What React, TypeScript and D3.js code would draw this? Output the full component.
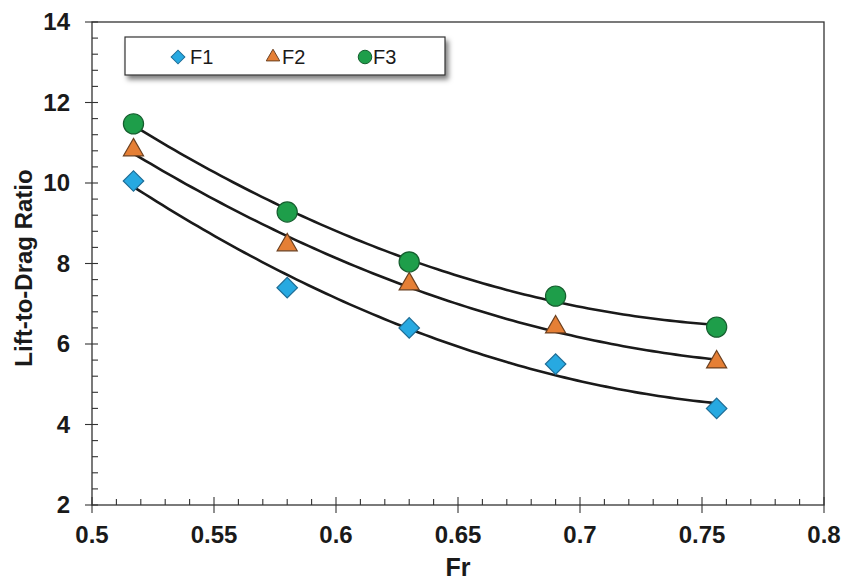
import React, { useEffect, useRef } from 'react'
import * as d3 from 'd3'

// Froude number at each test point
const fr = [0.517, 0.58, 0.63, 0.69, 0.756]
// lift-to-drag ratio
const f1 = [10.05, 7.4, 6.4, 5.5, 4.4]
const f2 = [10.82, 8.46, 7.49, 6.42, 5.55]
const f3 = [11.47, 9.28, 8.04, 7.19, 6.42]
const seriesNames = ['F1', 'F2', 'F3']
const xTicks = [0.5, 0.55, 0.6, 0.65, 0.7, 0.75, 0.8]
const yTicks = [2, 4, 6, 8, 10, 12, 14]

// least squares quadratic, like an Excel poly(2) trendline
function quadFit(xs: number[], ys: number[]) {
  const n = xs.length
  let s = [0, 0, 0, 0, 0], t = [0, 0, 0]
  for (let i = 0; i < n; i++) {
    for (let k = 0; k < 5; k++) s[k] += Math.pow(xs[i], k)
    for (let k = 0; k < 3; k++) t[k] += ys[i] * Math.pow(xs[i], k)
  }
  const A = [
    [s[0], s[1], s[2], t[0]],
    [s[1], s[2], s[3], t[1]],
    [s[2], s[3], s[4], t[2]],
  ]
  for (let c = 0; c < 3; c++) {
    for (let r = c + 1; r < 3; r++) {
      const f = A[r][c] / A[c][c]
      for (let k = c; k < 4; k++) A[r][k] -= f * A[c][k]
    }
  }
  const b = [0, 0, 0]
  for (let r = 2; r >= 0; r--) {
    let v = A[r][3]
    for (let k = r + 1; k < 3; k++) v -= A[r][k] * b[k]
    b[r] = v / A[r][r]
  }
  return (x: number) => b[0] + b[1] * x + b[2] * x * x
}

const App = () => {
  const ref = useRef<SVGSVGElement>(null)

  useEffect(() => {
    const svg = d3.select(ref.current)
    svg.selectAll('*').remove()

    const left = 92, right = 824, top = 22, bottom = 505
    const x = d3.scaleLinear().domain([0.5, 0.8]).range([left, right])
    const y = d3.scaleLinear().domain([2, 14]).range([bottom, top])
    const font = 'Arial, "Liberation Sans", sans-serif'

    const defs = svg.append('defs')
    const filt = defs.append('filter').attr('id', 'shadow').attr('x', '-10%').attr('y', '-30%').attr('width', '130%').attr('height', '180%')
    filt.append('feDropShadow').attr('dx', 3).attr('dy', 4).attr('stdDeviation', 2.5).attr('flood-color', '#000').attr('flood-opacity', 0.5)

    // frame
    svg.append('rect')
      .attr('x', left).attr('y', top)
      .attr('width', right - left).attr('height', bottom - top)
      .attr('fill', 'none').attr('stroke', '#333').attr('stroke-width', 1.3)

    // y axis with minor ticks
    const ya = svg.append('g')
    d3.range(2, 14.001, 0.4).forEach(v => {
      const major = yTicks.some(t => Math.abs(t - v) < 1e-6)
      ya.append('line')
        .attr('x1', major ? left - 7 : left).attr('x2', left + 6)
        .attr('y1', y(v)).attr('y2', y(v))
        .attr('stroke', '#333').attr('stroke-width', 1.1)
    })
    yTicks.forEach(v => {
      ya.append('text')
        .attr('x', left - 22).attr('y', y(v)).attr('dy', '0.35em')
        .attr('text-anchor', 'end')
        .style('font-family', font).style('font-weight', 'bold').style('font-size', '24px')
        .attr('fill', '#1a1a1a').text(v)
    })

    // x axis with minor ticks
    const xa = svg.append('g')
    d3.range(0.5, 0.8001, 0.01).forEach(v => {
      const major = xTicks.some(t => Math.abs(t - v) < 1e-6)
      xa.append('line')
        .attr('x1', x(v)).attr('x2', x(v))
        .attr('y1', major ? bottom - 8 : bottom - 6).attr('y2', major ? bottom + 8 : bottom)
        .attr('stroke', '#333').attr('stroke-width', 1.1)
    })
    xTicks.forEach(v => {
      xa.append('text')
        .attr('x', x(v)).attr('y', bottom + 38)
        .attr('text-anchor', 'middle')
        .style('font-family', font).style('font-weight', 'bold').style('font-size', '24px')
        .attr('fill', '#1a1a1a').text(String(v))
    })

    svg.append('text')
      .attr('x', (left + right) / 2).attr('y', 576)
      .attr('text-anchor', 'middle')
      .style('font-family', font).style('font-weight', 'bold').style('font-size', '25px')
      .attr('fill', '#1a1a1a').text('Fr')

    svg.append('text')
      .attr('transform', `translate(32,268) rotate(-90)`)
      .attr('text-anchor', 'middle')
      .style('font-family', font).style('font-weight', 'bold').style('font-size', '24px')
      .attr('fill', '#1a1a1a').text('Lift-to-Drag Ratio')

    const all = [f1, f2, f3]
    // trendlines
    const line = d3.line<number[]>().x(d => x(d[0])).y(d => y(d[1]))
    all.forEach(ys => {
      const f = quadFit(fr, ys)
      const pts = d3.range(0, 101).map(i => {
        const xv = fr[0] + (fr[fr.length - 1] - fr[0]) * i / 100
        return [xv, f(xv)]
      })
      svg.append('path')
        .attr('d', line(pts))
        .attr('fill', 'none').attr('stroke', '#1a1a1a').attr('stroke-width', 2.6)
    })

    const shapes = [d3.symbolSquare, d3.symbolTriangle, d3.symbolCircle]
    const rot = [45, 0, 0]
    const fills = ['#27a9e1', '#e57f35', '#1e9e4a']
    const strokes = ['#1f6d96', '#6b4020', '#155e2e']
    const sizes = [210, 175, 320]

    all.forEach((ys, si) => {
      svg.append('g').selectAll('path')
        .data(fr)
        .enter().append('path')
        .attr('transform', (d, i) => `translate(${x(d)},${y(ys[i])}) rotate(${rot[si]})`)
        .attr('d', d3.symbol().type(shapes[si]).size(sizes[si])())
        .attr('fill', fills[si]).attr('stroke', strokes[si]).attr('stroke-width', 1.2)
    })

    // legend
    const lg = svg.append('g')
    lg.append('rect')
      .attr('x', 125).attr('y', 37).attr('width', 320).attr('height', 38)
      .attr('fill', '#fff').attr('stroke', '#333').attr('stroke-width', 1.2)
      .attr('filter', 'url(#shadow)')
    const lx = [178, 273, 365]
    const tx = [190, 282, 373]
    seriesNames.forEach((name, si) => {
      lg.append('path')
        .attr('transform', `translate(${lx[si]},57) rotate(${rot[si]})`)
        .attr('d', d3.symbol().type(shapes[si]).size(sizes[si] * 0.45)())
        .attr('fill', fills[si]).attr('stroke', strokes[si]).attr('stroke-width', 1)
      lg.append('text')
        .attr('x', tx[si]).attr('y', 57).attr('dy', '0.36em')
        .style('font-family', font).style('font-size', '20px')
        .attr('fill', '#1a1a1a').text(name)
    })
  }, [])

  return (
    <svg ref={ref} width={841} height={580} style={{ display: 'block', position: 'absolute', left: 0, top: 0, background: '#fff' }} />
  )
}

export default App
